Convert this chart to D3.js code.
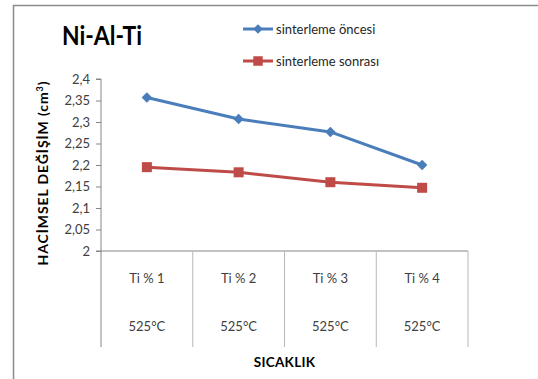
<!DOCTYPE html>
<html>
<head>
<meta charset="utf-8">
<script src="https://cdn.jsdelivr.net/npm/d3@7"></script>
<style>
  html, body { margin: 0; padding: 0; background: #fff; }
  svg { display: block; }
  text { font-family: Lato, "Open Sans", "Liberation Sans", sans-serif; }
</style>
</head>
<body>
<svg id="chart" width="538" height="379"></svg>
<script>
// Ti content groups, all sintered at 525°C
const categories = ["Ti % 1", "Ti % 2", "Ti % 3", "Ti % 4"];
const temperatures = ["525°C", "525°C", "525°C", "525°C"];

// Volume (cm³) before and after sintering
const onceValues = [2.357, 2.307, 2.277, 2.200];
const sonraValues = [2.195, 2.183, 2.160, 2.147];

const seriesNames = ["sinterleme öncesi", "sinterleme sonrası"];
const seriesColors = ["#4a7ebb", "#be4b48"];

const yTicks = [2, 2.05, 2.1, 2.15, 2.2, 2.25, 2.3, 2.35, 2.4];

const svg = d3.select("#chart");

// outer chart frame
svg.append("path")
  .attr("d", "M13.5,379 V5.5 H538")
  .attr("fill", "none")
  .attr("stroke", "#8c8c8c")
  .attr("stroke-width", 1.5);

const plot = { left: 101, right: 468, top: 79, bottom: 251 };

const x = d3.scaleBand().domain(categories).range([plot.left, plot.right]);
const y = d3.scaleLinear().domain([2, 2.4]).range([plot.bottom, plot.top]);

// y axis
const yAxis = d3.axisLeft(y)
  .tickValues(yTicks)
  .tickSize(5)
  .tickPadding(6)
  .tickFormat(d => d3.format("~g")(d).replace(".", ","));

const gy = svg.append("g")
  .attr("transform", `translate(${plot.left},0)`)
  .call(yAxis);
gy.select(".domain").attr("stroke", "#868686").attr("d", `M-5,${plot.top}H0V${plot.bottom + 96}`);
gy.selectAll(".tick line").attr("stroke", "#868686");
gy.selectAll(".tick text")
  .attr("fill", "#404040")
  .style("font-size", "13px");

// category axis with band dividers extending into the label table
const gx = svg.append("g");
gx.append("line")
  .attr("x1", plot.left - 5).attr("x2", plot.right)
  .attr("y1", plot.bottom).attr("y2", plot.bottom)
  .attr("stroke", "#868686");
const bounds = categories.map(c => x(c)).concat([x.range()[1]]);
gx.selectAll("line.div")
  .data(bounds.slice(1))
  .join("line")
  .attr("class", "div")
  .attr("x1", d => d).attr("x2", d => d)
  .attr("y1", plot.bottom).attr("y2", plot.bottom + 96)
  .attr("stroke", "#b8b8b8");

gx.selectAll("text.cat")
  .data(categories)
  .join("text")
  .attr("class", "cat")
  .attr("x", d => x(d) + x.bandwidth() / 2)
  .attr("y", 283)
  .attr("text-anchor", "middle")
  .attr("fill", "#404040")
  .style("font-size", "13px")
  .text(d => d);

gx.selectAll("text.temp")
  .data(categories)
  .join("text")
  .attr("class", "temp")
  .attr("x", d => x(d) + x.bandwidth() / 2)
  .attr("y", 331)
  .attr("text-anchor", "middle")
  .attr("fill", "#404040")
  .style("font-size", "13px")
  .text((d, i) => temperatures[i]);

// axis titles
svg.append("text")
  .attr("x", (plot.left + plot.right) / 2)
  .attr("y", 367)
  .attr("text-anchor", "middle")
  .attr("font-weight", "bold")
  .attr("fill", "#000")
  .style("font-size", "13.5px")
  .style("letter-spacing", "0.3px")
  .text("SICAKLIK");

const yTitle = svg.append("text")
  .attr("transform", "translate(48,173) rotate(-90)")
  .attr("text-anchor", "middle")
  .attr("font-weight", "bold")
  .attr("fill", "#000")
  .style("font-size", "14px")
  .style("letter-spacing", "0.9px");
yTitle.append("tspan").text("HACİMSEL DEĞİŞİM (cm");
yTitle.append("tspan").attr("dy", -5).style("font-size", "9px").text("3");
yTitle.append("tspan").attr("dy", 5).text(")");

// chart title
svg.append("text")
  .attr("x", 62)
  .attr("y", 45)
  .attr("font-weight", "bold")
  .attr("fill", "#000")
  .style("font-size", "26px")
  .attr("textLength", 80)
  .attr("lengthAdjust", "spacingAndGlyphs")
  .text("Ni-Al-Ti");

// series lines and markers
const series = [onceValues, sonraValues];
const line = d3.line()
  .x((d, i) => x(categories[i]) + x.bandwidth() / 2)
  .y(d => y(d));

series.forEach((vals, s) => {
  svg.append("path")
    .datum(vals)
    .attr("d", line)
    .attr("fill", "none")
    .attr("stroke", seriesColors[s])
    .attr("stroke-width", 3)
    .attr("stroke-linejoin", "round");

  const sym = s === 0
    ? d3.symbol().type(d3.symbolDiamond2).size(70)
    : d3.symbol().type(d3.symbolSquare).size(100);

  svg.selectAll(`path.m${s}`)
    .data(vals)
    .join("path")
    .attr("class", `m${s}`)
    .attr("transform", (d, i) => `translate(${x(categories[i]) + x.bandwidth() / 2},${y(d)})`)
    .attr("d", sym)
    .attr("fill", seriesColors[s]);
});

// legend
const legend = svg.append("g");
const legendY = [29, 61];
seriesNames.forEach((name, s) => {
  const g = legend.append("g").attr("transform", `translate(243,${legendY[s]})`);
  g.append("line")
    .attr("x1", 0).attr("x2", 30)
    .attr("stroke", seriesColors[s])
    .attr("stroke-width", 3);
  const sym = s === 0
    ? d3.symbol().type(d3.symbolDiamond2).size(60)
    : d3.symbol().type(d3.symbolSquare).size(90);
  g.append("path")
    .attr("transform", "translate(15,0)")
    .attr("d", sym)
    .attr("fill", seriesColors[s]);
  g.append("text")
    .attr("x", 33)
    .attr("y", 4.5)
    .attr("fill", "#262626")
    .style("font-size", "13px")
    .text(name);
});
</script>
</body>
</html>
